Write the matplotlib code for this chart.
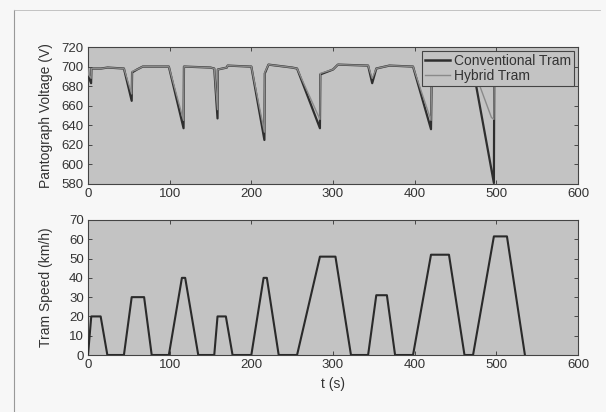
import matplotlib
matplotlib.use("Agg")
import matplotlib.pyplot as plt
from matplotlib.lines import Line2D

plt.rcParams['font.family'] = ['Liberation Sans', 'DejaVu Sans']

# ---- data ----
# Tram speed profile (km/h) vs time (s)
speed_t = [0, 4, 15.5, 23.7, 44, 53.5, 68.7, 78, 99, 115, 119, 135,
           154.6, 158.6, 168.8, 177, 200, 215, 219, 233.5, 256, 284, 303, 322,
           343, 353, 366, 376, 398, 420, 442, 461, 471.5, 497, 513, 535]
speed_v = [0, 20, 20, 0, 0, 30, 30, 0, 0, 40, 40, 0,
           0, 20, 20, 0, 0, 40, 40, 0, 0, 51, 51, 0,
           0, 31, 31, 0, 0, 52, 52, 0, 0, 61.5, 61.5, 0]

# Pantograph voltage (V), conventional tram
conv_t = [0, 0.5, 3.8, 4.2, 16, 24, 44, 53.5, 54, 60, 67, 99, 117, 117.5,
          150, 154.6, 158.6, 159, 170, 171, 198, 200, 216, 216.5, 221, 250,
          256, 284, 284.5, 300, 306, 343, 348, 353, 369, 398, 420, 421, 471,
          497, 497.5, 540]
conv_v = [698, 690, 683, 698, 698, 699, 698, 665, 694, 697, 700, 700, 637, 700,
          699, 698, 647, 697, 699, 701, 700, 700, 625, 693, 702, 699,
          698, 637, 692, 697, 702, 701, 683, 698, 701, 700, 636, 700, 700,
          581, 700, 700]

# Pantograph voltage (V), hybrid tram
hyb_t = [0, 0.5, 3.8, 4.2, 16, 24, 44, 53.5, 54, 60, 67, 99, 117, 117.5,
         150, 154.6, 158.6, 159, 170, 171, 198, 200, 216, 216.5, 221, 250,
         256, 284, 284.5, 300, 306, 343, 348, 353, 369, 398, 420, 421, 471,
         494, 497, 497.5, 540]
hyb_v = [698, 692, 688, 698, 698, 699, 698, 672, 695, 697, 700, 700, 645, 700,
         699, 698, 656, 697, 699, 701, 700, 700, 633, 694, 702, 699,
         698, 646, 693, 697, 702, 701, 688, 698, 701, 700, 645, 700, 700,
         648, 646, 700, 700]

legend_labels = ['Conventional Tram', 'Hybrid Tram']
xticks = [0, 100, 200, 300, 400, 500, 600]
v_ticks = [580, 600, 620, 640, 660, 680, 700, 720]
s_ticks = [0, 10, 20, 30, 40, 50, 60, 70]

# ---- style ----
W, H = 606, 412
bg_axes = '#c3c3c3'
fig = plt.figure(figsize=(W / 100, H / 100), dpi=100, facecolor='#f7f7f7')

def px_axes(l, r, t, b):
    return [l / W, 1 - b / H, (r - l) / W, (b - t) / H]

ax1 = fig.add_axes(px_axes(88, 578, 47, 184))
ax2 = fig.add_axes(px_axes(88, 578, 220, 355))

conv_color = '#2e2e2e'
hyb_color = '#8a8a8a'

ax1.plot(conv_t, conv_v, color=conv_color, lw=1.6, zorder=3)
ax1.plot(hyb_t, hyb_v, color=hyb_color, lw=1.0, zorder=4)
ax2.plot(speed_t, speed_v, color='#2a2a2a', lw=1.5, zorder=3)

for ax in (ax1, ax2):
    ax.set_facecolor(bg_axes)
    ax.set_xlim(0, 600)
    ax.set_xticks(xticks)
    ax.tick_params(direction='in', top=True, right=True, length=3, width=0.6,
                   labelsize=9.5, colors='#333333', pad=3)
    for sp in ax.spines.values():
        sp.set_color('#444444')
        sp.set_linewidth(0.8)
    ax.yaxis.set_label_coords(-0.072, 0.5)

ax1.set_ylim(580, 720)
ax1.set_yticks(v_ticks)
ax1.set_ylabel('Pantograph Voltage (V)', fontsize=10, color='#333333')

ax2.set_ylim(0, 70)
ax2.set_yticks(s_ticks)
ax2.set_ylabel('Tram Speed (km/h)', fontsize=10, color='#333333')
ax2.set_xlabel('t (s)', fontsize=10, color='#333333', labelpad=4)

handles = [Line2D([], [], color=conv_color, lw=1.8),
           Line2D([], [], color=hyb_color, lw=1.0)]
leg = ax1.legend(handles, legend_labels, loc='upper right', fontsize=10,
                 frameon=True, fancybox=False, facecolor=bg_axes,
                 edgecolor='#444444', framealpha=1, borderpad=0.2,
                 labelspacing=0.1, handlelength=1.8, handletextpad=0.3,
                 borderaxespad=0.3)
leg.get_frame().set_linewidth(0.8)
leg.set_zorder(10)
for txt in leg.get_texts():
    txt.set_color('#333333')

# scan frame edges
fig.add_artist(Line2D([14 / W, 14 / W], [0, 1 - 10 / H], color='#999999',
                      lw=0.8, transform=fig.transFigure))
fig.add_artist(Line2D([14 / W, 600 / W], [1 - 10 / H, 1 - 10 / H],
                      color='#bbbbbb', lw=0.6, transform=fig.transFigure))

fig.savefig('out.png', dpi=100, facecolor=fig.get_facecolor())
